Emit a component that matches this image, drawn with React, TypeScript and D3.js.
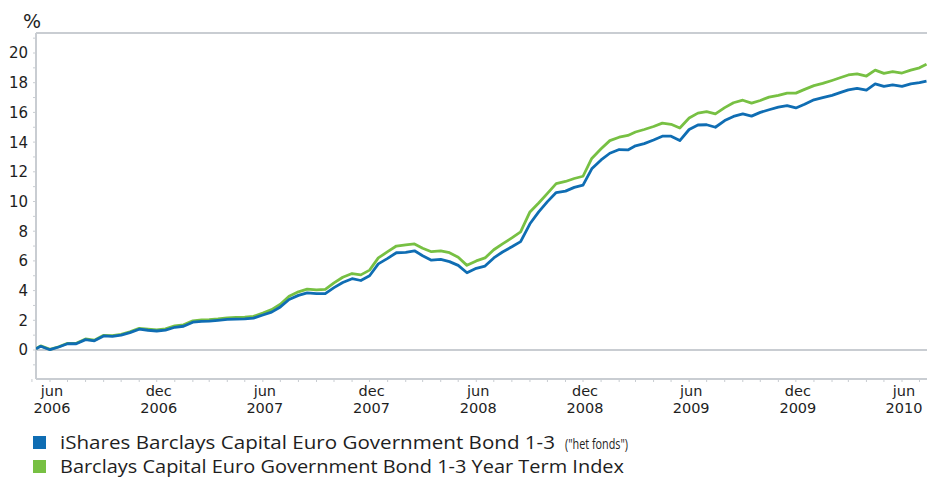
import React from "react";
import * as d3 from "d3";

const dates = [
  "2006-05-08", "2006-05-16",
  "2006-06-01", "2006-06-16", "2006-07-01", "2006-07-16", "2006-08-01", "2006-08-16",
  "2006-09-01", "2006-09-16", "2006-10-01", "2006-10-16", "2006-11-01", "2006-11-16",
  "2006-12-01", "2006-12-16", "2007-01-01", "2007-01-16", "2007-02-01", "2007-02-16",
  "2007-03-01", "2007-03-16", "2007-04-01", "2007-04-16", "2007-05-01", "2007-05-16",
  "2007-06-01", "2007-06-16", "2007-07-01", "2007-07-16", "2007-08-01", "2007-08-16",
  "2007-09-01", "2007-09-16", "2007-10-01", "2007-10-16", "2007-11-01", "2007-11-16",
  "2007-12-01", "2007-12-16", "2008-01-01", "2008-01-16", "2008-02-01", "2008-02-16",
  "2008-03-01", "2008-03-16", "2008-04-01", "2008-04-16", "2008-05-01", "2008-05-16",
  "2008-06-01", "2008-06-16", "2008-07-01", "2008-07-16", "2008-08-01", "2008-08-16",
  "2008-09-01", "2008-09-16", "2008-10-01", "2008-10-16", "2008-11-01", "2008-11-16",
  "2008-12-01", "2008-12-16", "2009-01-01", "2009-01-16", "2009-02-01", "2009-02-16",
  "2009-03-01", "2009-03-16", "2009-04-01", "2009-04-16", "2009-05-01", "2009-05-16",
  "2009-06-01", "2009-06-16", "2009-07-01", "2009-07-16", "2009-08-01", "2009-08-16",
  "2009-09-01", "2009-09-16", "2009-10-01", "2009-10-16", "2009-11-01", "2009-11-16",
  "2009-12-01", "2009-12-16", "2010-01-01", "2010-01-16", "2010-02-01", "2010-02-16",
  "2010-03-01", "2010-03-16", "2010-04-01", "2010-04-16", "2010-05-01", "2010-05-16",
  "2010-06-01", "2010-06-16", "2010-07-01", "2010-07-13",
];

const fund = [
  0.08, 0.25,
  0.02, 0.2, 0.42, 0.42, 0.7, 0.62,
  0.95, 0.92, 1.0, 1.17, 1.4, 1.33,
  1.28, 1.34, 1.53, 1.6, 1.87, 1.93,
  1.95, 2.0, 2.06, 2.08, 2.09, 2.15,
  2.36, 2.55, 2.9, 3.4, 3.68, 3.85,
  3.8, 3.8, 4.2, 4.55, 4.8, 4.68,
  5.0, 5.8, 6.17, 6.55, 6.58, 6.68,
  6.35, 6.05, 6.1, 5.95, 5.7, 5.2,
  5.5, 5.65, 6.2, 6.6, 6.95, 7.3,
  8.5, 9.3, 9.99, 10.6, 10.7, 10.95,
  11.1, 12.2, 12.8, 13.25, 13.5, 13.47,
  13.75, 13.9, 14.14, 14.4, 14.4, 14.1,
  14.85, 15.15, 15.17, 15.0, 15.45, 15.73,
  15.9, 15.75, 16.0, 16.18, 16.35, 16.45,
  16.3, 16.55, 16.85, 17.0, 17.15, 17.35,
  17.52, 17.62, 17.5, 17.92, 17.75, 17.85,
  17.75, 17.92, 18.0, 18.1,
];

const benchmark = [
  0.1, 0.28,
  0.04, 0.22, 0.45, 0.45, 0.74, 0.66,
  0.99, 0.97, 1.05, 1.22, 1.46, 1.4,
  1.35, 1.42, 1.62, 1.69, 1.96, 2.03,
  2.05, 2.1, 2.17, 2.2, 2.22, 2.27,
  2.49, 2.72, 3.08, 3.62, 3.92, 4.1,
  4.05, 4.08, 4.52, 4.9, 5.15, 5.06,
  5.38, 6.2, 6.62, 7.0, 7.08, 7.14,
  6.85, 6.62, 6.68, 6.55, 6.25, 5.7,
  6.0, 6.2, 6.75, 7.15, 7.55, 7.95,
  9.3, 9.9, 10.55, 11.2, 11.35, 11.55,
  11.7, 12.9, 13.55, 14.1, 14.33, 14.45,
  14.68, 14.85, 15.05, 15.28, 15.2, 14.95,
  15.62, 15.95, 16.05, 15.9, 16.32, 16.65,
  16.82, 16.62, 16.8, 17.03, 17.15, 17.3,
  17.3, 17.55, 17.8, 17.95, 18.15, 18.35,
  18.52, 18.6, 18.45, 18.85, 18.63, 18.74,
  18.65, 18.85, 19.0, 19.25,
];

const yTickValues = [0, 2, 4, 6, 8, 10, 12, 14, 16, 18, 20];
const yMinorValues = [-1, 1, 3, 5, 7, 9, 11, 13, 15, 17, 19, 21];

const xLabelDates = [
  "2006-06-01", "2006-12-01", "2007-06-01", "2007-12-01", "2008-06-01",
  "2008-12-01", "2009-06-01", "2009-12-01", "2010-06-01",
];
const xLabelMonths = ["jun", "dec", "jun", "dec", "jun", "dec", "jun", "dec", "jun"];
const xLabelYears = ["2006", "2006", "2007", "2007", "2008", "2008", "2009", "2009", "2010"];

const legendNames = [
  "iShares Barclays Capital Euro Government Bond 1-3",
  "Barclays Capital Euro Government Bond 1-3 Year Term Index",
];
const legendSuffix = ["(\"het fonds\")", ""];

const BLUE = "#0f6db3";
const GREEN = "#77c043";
const GRID = "#c9cdd2";
const TEXT = "#1e1e1e";
const FONT = "'Open Sans', 'Noto Sans', sans-serif";
const AXFONT = "'DejaVu Sans', sans-serif";

export default function App() {
  const W = 927;
  const H = 477;
  const left = 36;
  const top = 33;
  const bottom = 379;
  const right = 927;

  const parse = d3.utcParse("%Y-%m-%d");
  const x = d3
    .scaleUtc()
    .domain([parse("2006-06-01")!, parse("2010-06-01")!])
    .range([50, 902]);
  const y = d3.scaleLinear().domain([0, 20]).range([350, 53]);

  const pts = dates.map((d) => parse(d)!);
  const line = d3
    .line<number>()
    .x((_, i) => x(pts[i]))
    .y((v) => y(v))
    .curve(d3.curveLinear);

  const monthTicks = d3.utcMonth.range(parse("2006-05-01")!, parse("2010-08-01")!);

  const legendMainLen = [495, 564];

  return (
    <svg
      width={W}
      height={H}
      style={{ position: "absolute", left: 0, top: 0, background: "#fff" }}
    >
      <defs>
        <clipPath id="plot">
          <rect x={left} y={top} width={right - left} height={bottom - top} />
        </clipPath>
      </defs>
      <text x={23} y={28} fontFamily={AXFONT} fontSize={19} fill={TEXT}>
        %
      </text>
      {/* frame */}
      <line x1={left} x2={right} y1={top} y2={top} stroke={GRID} strokeWidth={2} />
      <line x1={left} x2={left} y1={top} y2={bottom} stroke={GRID} strokeWidth={2} />
      <line x1={left} x2={right} y1={bottom} y2={bottom} stroke={GRID} strokeWidth={2} />
      {/* zero line */}
      <line x1={left} x2={right} y1={y(0)} y2={y(0)} stroke={GRID} strokeWidth={2} />
      {/* y ticks */}
      {yMinorValues.map((v) => (
        <line key={"m" + v} x1={left - 3} x2={left} y1={y(v)} y2={y(v)} stroke={GRID} strokeWidth={1} />
      ))}
      {yTickValues.map((v) => (
        <g key={"t" + v}>
          <line x1={left - 3} x2={left} y1={y(v)} y2={y(v)} stroke={GRID} strokeWidth={1} />
          <text
            x={28}
            y={y(v)}
            dy="0.36em"
            textAnchor="end"
            fontFamily={AXFONT}
            fontSize={15}
            fill={TEXT}
          >
            {v}
          </text>
        </g>
      ))}
      {/* x ticks */}
      {monthTicks.map((d, i) => (
        <line key={"x" + i} x1={x(d)} x2={x(d)} y1={bottom} y2={bottom + 3} stroke={GRID} strokeWidth={1} />
      ))}
      {xLabelDates.map((d, i) => {
        const xx = x(parse(d)!) + 2;
        return (
          <g key={"xl" + i}>
            <text x={xx} y={396} textAnchor="middle" fontFamily={AXFONT} fontSize={14.5} fill={TEXT}>
              {xLabelMonths[i]}
            </text>
            <text x={xx} y={413} textAnchor="middle" fontFamily={AXFONT} fontSize={14.5} fill={TEXT}>
              {xLabelYears[i]}
            </text>
          </g>
        );
      })}
      {/* lines */}
      <g clipPath="url(#plot)">
        <path d={line(benchmark) || ""} fill="none" stroke={GREEN} strokeWidth={2.8} strokeLinejoin="round" />
        <path d={line(fund) || ""} fill="none" stroke={BLUE} strokeWidth={2.8} strokeLinejoin="round" />
      </g>
      {/* legend */}
      {legendNames.map((name, i) => (
        <g key={"lg" + i} transform={`translate(0, ${i * 24})`}>
          <rect x={33} y={436} width={13} height={13} fill={i === 0 ? BLUE : GREEN} />
          <text
            x={60}
            y={448.5}
            fontFamily={FONT}
            fontSize={19}
            fill={TEXT}
            textLength={legendMainLen[i]}
            lengthAdjust="spacingAndGlyphs"
          >
            {name}
          </text>
          {legendSuffix[i] ? (
            <text
              x={565}
              y={448.5}
              fontFamily={FONT}
              fontSize={14}
              fill={TEXT}
              textLength={63}
              lengthAdjust="spacingAndGlyphs"
            >
              {legendSuffix[i]}
            </text>
          ) : null}
        </g>
      ))}
    </svg>
  );
}
